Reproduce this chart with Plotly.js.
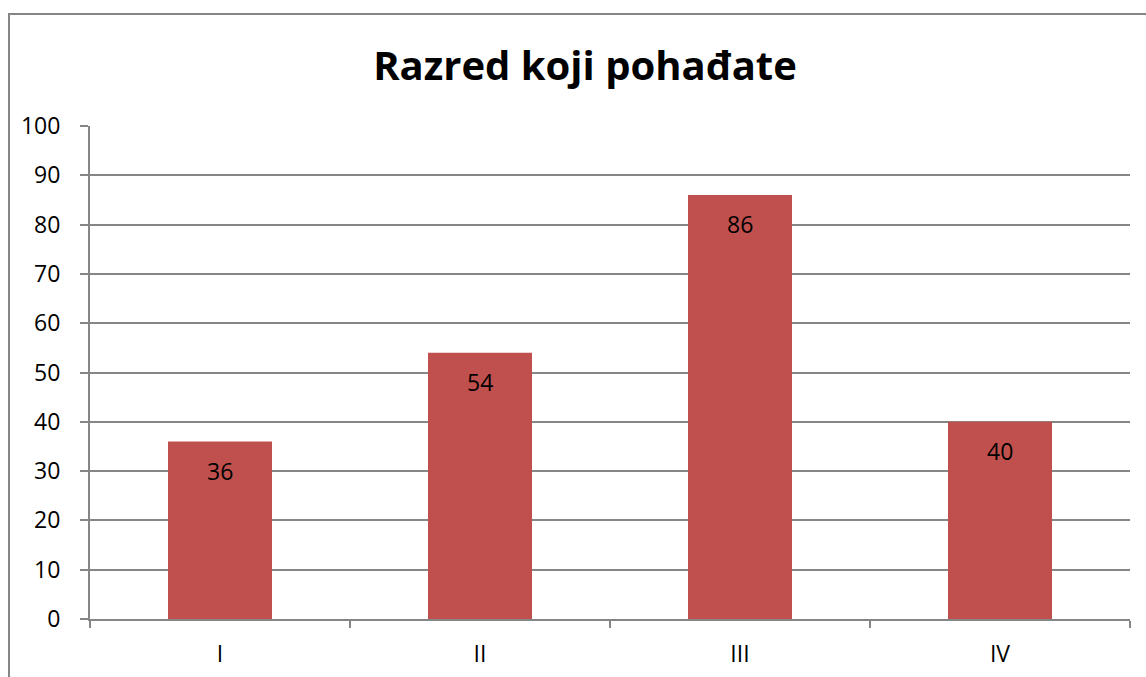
<!DOCTYPE html>
<html>
<head>
<meta charset="utf-8">
<script src="https://cdn.plot.ly/plotly-3.0.1.min.js"></script>
<style>html,body{margin:0;padding:0;background:#fff;}#chart{width:1146px;height:677px;}</style>
</head>
<body>
<div id="chart"></div>
<script>
const categories = ["I", "II", "III", "IV"];
const values = [36, 54, 86, 40];
const yTicks = [0, 10, 20, 30, 40, 50, 60, 70, 80, 90, 100];
const titleText = "Razred koji pohađate";

const L = 90, R = 1130, T = 126, B = 619;
const px = x => (x - L) / (R - L);
const py = y => (B - y) / (B - T);
const font = "Open Sans, Noto Sans, sans-serif";

const data = [{
  type: "bar",
  x: categories,
  y: values,
  marker: {color: "#C0504D"},
  width: 0.4,
  hoverinfo: "none"
}];

const annotations = categories.map((c, i) => ({
  x: c, y: values[i], xref: "x", yref: "y",
  text: String(values[i]), showarrow: false,
  yshift: -29, font: {family: font, size: 23, color: "#000"}
}));

const layout = {
  width: 1146, height: 677,
  margin: {l: L, r: 1146 - R, t: T, b: 677 - B, pad: 0},
  paper_bgcolor: "#fff", plot_bgcolor: "#fff",
  showlegend: false,
  title: {text: "<b>" + titleText + "</b>", x: 585 / 1146, xref: "container", xanchor: "center",
          y: 1 - 66 / 677, yanchor: "middle",
          font: {family: font, size: 40, color: "#000"}},
  xaxis: {
    type: "category", tickson: "boundaries", ticks: "outside", ticklen: 7,
    tickcolor: "#868686", tickwidth: 2,
    showline: true, linecolor: "#868686", linewidth: 2,
    showgrid: false, zeroline: false,
    tickfont: {family: font, size: 23, color: "#000"}, ticklabelstandoff: 13
  },
  yaxis: {
    range: [0, 100], tickvals: yTicks, ticktext: yTicks.map(String),
    ticks: "outside", ticklen: 8, tickcolor: "#868686", tickwidth: 2,
    showline: true, linecolor: "#868686", linewidth: 2,
    showgrid: true, gridcolor: "#868686", gridwidth: 2, zeroline: false,
    tickfont: {family: font, size: 23, color: "#000"}, ticklabelstandoff: 15
  },
  annotations: annotations,
  shapes: [{
    type: "path", xref: "paper", yref: "paper",
    path: `M ${px(9)} ${py(680)} L ${px(9)} ${py(14)} L ${px(1150)} ${py(14)}`,
    line: {color: "#868686", width: 2}
  }]
};

Plotly.newPlot("chart", data, layout, {staticPlot: true, displayModeBar: false});
</script>
</body>
</html>
